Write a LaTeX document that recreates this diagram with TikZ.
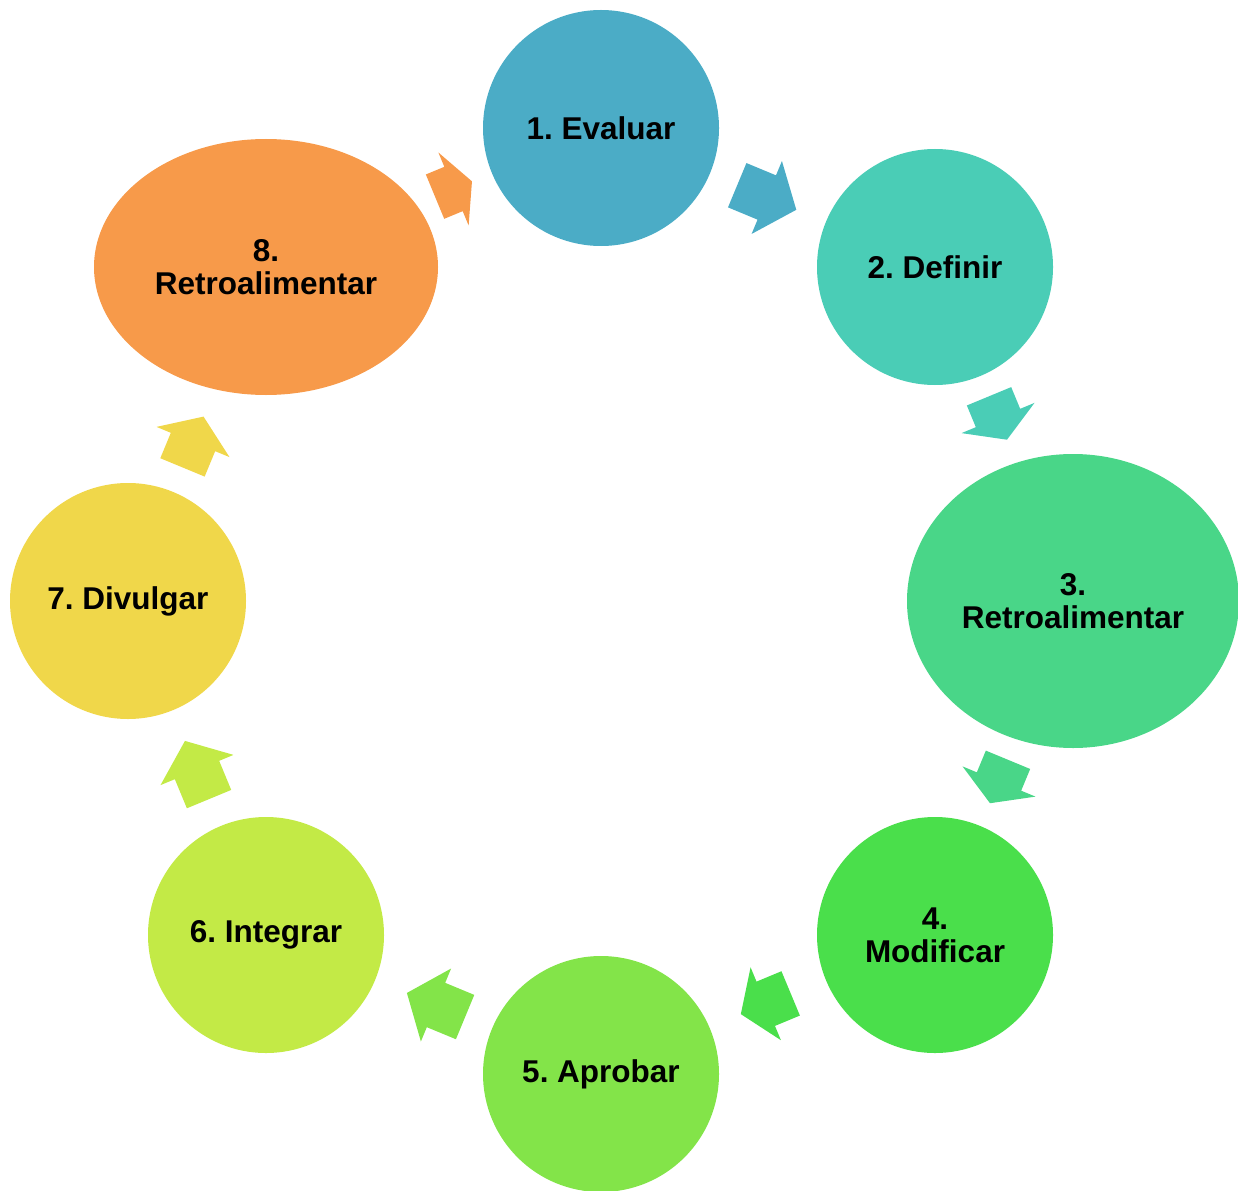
\documentclass[tikz,border=0pt]{standalone}
\usepackage{fontspec}
\setmainfont{Liberation Sans}
\usetikzlibrary{shapes.geometric}
\definecolor{c1}{HTML}{4BACC6}
\definecolor{c2}{HTML}{4ACDB6}
\definecolor{c3}{HTML}{49D688}
\definecolor{c4}{HTML}{4ADF4B}
\definecolor{c5}{HTML}{83E449}
\definecolor{c6}{HTML}{C3EA46}
\definecolor{c7}{HTML}{F0D74A}
\definecolor{c8}{HTML}{F79A4A}
\frenchspacing
\newcommand\blockarr[6]{%
  \begin{scope}[shift={(#2,#3)}, rotate=#4]
    \coordinate (#1) at (0,0);
    \pgfmathsetmacro\halfL{#5/2}
    \pgfmathsetmacro\hl{0.5*min(#5,79)}
    \pgfmathsetmacro\hx{#5/2-\hl}
    \fill[#6] (-\halfL,-24) -- (\hx,-24) -- (\hx,-39.5) -- (\halfL,0) -- (\hx,39.5) -- (\hx,24) -- (-\halfL,24) -- cycle;
  \end{scope}}
\begin{document}
\begin{tikzpicture}[x=1pt,y=1pt,
  stage/.style={circle, minimum size=236pt, inner sep=0pt, align=center,
    font=\fontsize{31.5}{33}\selectfont\bfseries\frenchspacing, text=black},
  oval/.style={ellipse, inner sep=0pt, align=center,
    font=\fontsize{31.5}{33}\selectfont\bfseries\frenchspacing, text=black}]
\useasboundingbox (0,0) rectangle (1238,-1190);
\node[stage, fill=c1] (n1) at (601,-128) {1. Evaluar};
\node[stage, fill=c2] (n2) at (935,-267) {2. Definir};
\node[oval, fill=c3, minimum width=332pt, minimum height=294pt] (n3) at (1073,-601) {3.\\Retroalimentar};
\node[stage, fill=c4] (n4) at (935,-935) {4.\\Modificar};
\node[stage, fill=c5] (n5) at (601,-1074) {5. Aprobar};
\node[stage, fill=c6] (n6) at (266,-935) {6. Integrar};
\node[stage, fill=c7] (n7) at (128,-601) {7. Divulgar};
\node[oval, fill=c8, minimum width=344pt, minimum height=256pt] (n8) at (266,-267) {8.\\Retroalimentar};
\blockarr{a1}{766.75}{-197.5}{-22.6}{64}{c1}
\blockarr{a2}{998}{-418}{-67.5}{47}{c2}
\blockarr{a3}{999}{-781.5}{-112.5}{47}{c3}
\blockarr{a4}{765.75}{-1003.75}{-157.4}{54}{c4}
\blockarr{a5}{436}{-1005}{157.5}{63}{c5}
\blockarr{a6}{197}{-770}{112.5}{63}{c6}
\blockarr{a7}{193}{-442}{67.5}{55}{c7}
\blockarr{a8}{453.5}{-189}{22.5}{40}{c8}
\end{tikzpicture}
\end{document}
